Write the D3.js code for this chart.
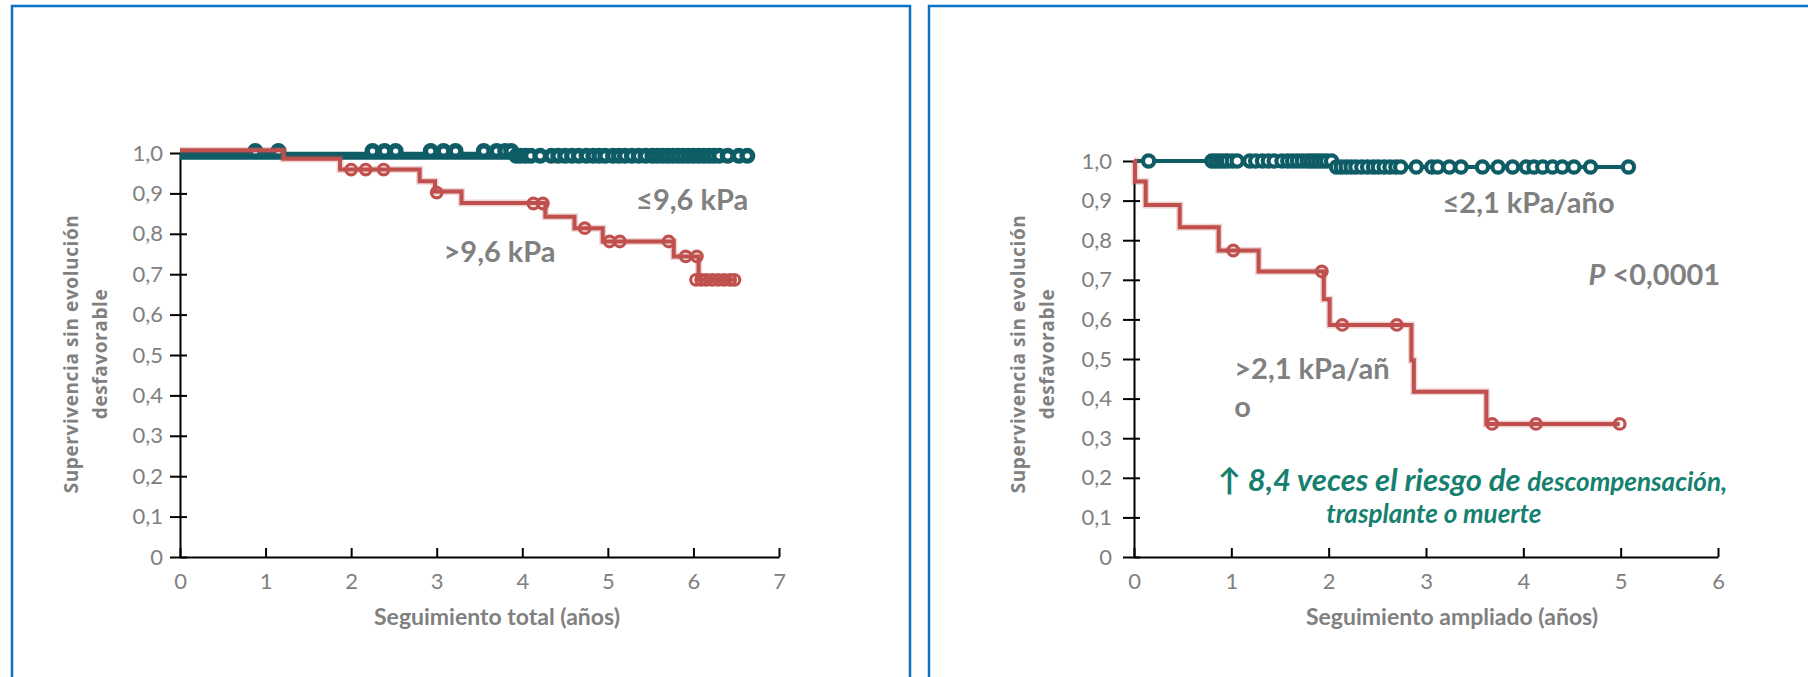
<!DOCTYPE html>
<html>
<head>
<meta charset="utf-8">
<script src="https://cdn.jsdelivr.net/npm/d3@7/dist/d3.min.js"></script>
<style>
  body { margin: 0; background: #fff; }
  svg { display: block; }
  .axis path, .axis line { stroke: #000; stroke-width: 2px; }
  .axis text { font-family: Lato, sans-serif; font-size: 22px; fill: #808080; }
  .ytitle { font-family: "Open Sans", sans-serif; font-size: 19px; font-weight: 700; fill: #808080; letter-spacing: 0.6px; }
  .xtitle { font-family: Lato, sans-serif; font-size: 23px; font-weight: 700; fill: #808080; }
  .group-label { font-family: Lato, sans-serif; font-size: 29px; font-weight: 700; fill: #808080; }
  .note { font-family: Lato, sans-serif; font-weight: 700; font-style: italic; fill: #16806f; }
</style>
</head>
<body>
<div id="graphic"></div>
<script>
// Shared tick values
var survivalTicks = [0, 0.1, 0.2, 0.3, 0.4, 0.5, 0.6, 0.7, 0.8, 0.9, 1.0];
var survivalLabels = ["0", "0,1", "0,2", "0,3", "0,4", "0,5", "0,6", "0,7", "0,8", "0,9", "1,0"];
var totalYears = [0, 1, 2, 3, 4, 5, 6, 7];
var extendedYears = [0, 1, 2, 3, 4, 5, 6];

// Panel 1: seguimiento total, >9,6 kPa vs ≤9,6 kPa  ([years, survival])
var totalHighSteps = [[0, 1.007], [1.21, 0.986], [1.87, 0.959], [2.80, 0.930], [2.98, 0.905],
  [3.29, 0.876], [4.27, 0.842], [4.61, 0.814], [4.94, 0.781], [5.77, 0.744], [6.06, 0.686], [6.48, 0.686]];
var totalHighCensored = [[2.00, 0.959], [2.17, 0.959], [2.38, 0.959], [3.00, 0.902], [4.13, 0.875],
  [4.24, 0.875], [4.73, 0.814], [5.02, 0.781], [5.14, 0.781], [5.71, 0.781], [5.91, 0.744], [6.04, 0.744],
  [6.03, 0.686], [6.09, 0.686], [6.15, 0.686], [6.22, 0.686], [6.29, 0.686], [6.36, 0.686], [6.43, 0.686], [6.48, 0.686]];
var totalLowSteps = [[0, 0.993], [6.63, 0.993]];
var totalLowCensored = [[0.88, 1.005], [1.15, 1.005], [2.25, 1.005], [2.39, 1.005], [2.52, 1.005],
  [2.93, 1.005], [3.08, 1.005], [3.22, 1.005], [3.55, 1.005], [3.70, 1.005], [3.80, 1.005], [3.87, 1.005],
  [3.93, 0.993], [3.98, 0.993], [4.04, 0.993], [4.10, 0.993], [4.21, 0.993], [4.34, 0.993], [4.42, 0.993],
  [4.50, 0.993], [4.58, 0.993], [4.66, 0.993], [4.75, 0.993], [4.83, 0.993], [4.90, 0.993], [4.97, 0.993],
  [5.06, 0.993], [5.13, 0.993], [5.20, 0.993], [5.28, 0.993], [5.36, 0.993], [5.44, 0.993], [5.52, 0.993],
  [5.58, 0.993], [5.64, 0.993], [5.70, 0.993], [5.76, 0.993], [5.82, 0.993], [5.88, 0.993], [5.94, 0.993],
  [6.00, 0.993], [6.06, 0.993], [6.12, 0.993], [6.18, 0.993], [6.24, 0.993], [6.30, 0.993], [6.40, 0.993],
  [6.53, 0.993], [6.63, 0.993]];

// Panel 2: seguimiento ampliado, >2,1 kPa/año vs ≤2,1 kPa/año
var extHighSteps = [[0, 1.0], [0.01, 0.948], [0.12, 0.889], [0.47, 0.833], [0.87, 0.774], [1.28, 0.721],
  [1.95, 0.651], [2.01, 0.586], [2.85, 0.497], [2.875, 0.417], [3.62, 0.336], [4.99, 0.336]];
var extHighCensored = [[1.02, 0.774], [1.93, 0.721], [2.14, 0.586], [2.70, 0.586], [3.68, 0.336],
  [4.13, 0.336], [4.99, 0.336]];
var extLowSteps = [[0, 1.0], [2.06, 0.985], [5.09, 0.985]];
var extLowCensored = [[0.15, 1.0], [0.80, 1.0], [0.84, 1.0], [0.88, 1.0], [0.92, 1.0], [0.96, 1.0],
  [1.01, 1.0], [1.06, 1.0], [1.19, 1.0], [1.25, 1.0], [1.32, 1.0], [1.38, 1.0], [1.44, 1.0], [1.52, 1.0],
  [1.58, 1.0], [1.63, 1.0], [1.68, 1.0], [1.73, 1.0], [1.78, 1.0], [1.82, 1.0], [1.86, 1.0], [1.90, 1.0],
  [1.94, 1.0], [1.98, 1.0], [2.03, 1.0],
  [2.08, 0.985], [2.13, 0.985], [2.18, 0.985], [2.23, 0.985], [2.28, 0.985], [2.34, 0.985], [2.40, 0.985],
  [2.46, 0.985], [2.51, 0.985], [2.57, 0.985], [2.63, 0.985], [2.69, 0.985], [2.74, 0.985], [2.90, 0.985],
  [3.06, 0.985], [3.12, 0.985], [3.24, 0.985], [3.36, 0.985], [3.58, 0.985], [3.74, 0.985], [3.89, 0.985],
  [4.03, 0.985], [4.11, 0.985], [4.20, 0.985], [4.30, 0.985], [4.40, 0.985], [4.52, 0.985], [4.69, 0.985],
  [5.08, 0.985]];

var red = "#c0504d";
var teal = "#0e5c66";

var svg = d3.select("#graphic").append("svg")
    .attr("width", 1808)
    .attr("height", 677);

svg.append("rect").attr("width", 1808).attr("height", 677).attr("fill", "#fff");

function panel(opts) {
  // Blue frame
  svg.append("rect")
    .attr("x", opts.frame[0]).attr("y", opts.frame[1])
    .attr("width", opts.frame[2]).attr("height", opts.frame[3])
    .attr("fill", "none").attr("stroke", "#0b72c6").attr("stroke-width", 2.5);

  var x = d3.scaleLinear().domain([0, d3.max(opts.years)]).range(opts.xRange);
  var y = d3.scaleLinear().domain([0, 1]).range(opts.yRange);

  var g = svg.append("g");

  // Axes
  var yAxis = d3.axisLeft(y)
    .tickValues(survivalTicks)
    .tickFormat(function(d, i) { return survivalLabels[i]; })
    .tickSize(opts.tickOut)
    .tickSizeOuter(0)
    .tickPadding(opts.labelGap - opts.tickOut);

  var yg = g.append("g").attr("class", "axis")
    .attr("transform", "translate(" + x(0) + ",0)")
    .call(yAxis);
  yg.selectAll(".tick line").attr("x1", opts.tickIn);

  var xAxis = d3.axisBottom(x)
    .tickValues(opts.years)
    .tickFormat(d3.format("d"))
    .tickSize(-9)
    .tickSizeOuter(0)
    .tickPadding(16);

  g.append("g").attr("class", "axis")
    .attr("transform", "translate(0," + y(0) + ")")
    .call(xAxis);

  // Titles
  var yt = g.append("text").attr("class", "ytitle")
    .attr("text-anchor", "middle")
    .attr("transform", "translate(" + opts.ytitleX + ",354) rotate(-90)");
  yt.append("tspan").attr("x", 0).attr("dy", 0).text("Supervivencia sin evolución");
  yt.append("tspan").attr("x", 0).attr("dy", 29).text("desfavorable");

  g.append("text").attr("class", "xtitle")
    .attr("text-anchor", "middle")
    .attr("x", opts.xtitleX).attr("y", 625)
    .text(opts.xtitle);

  var line = d3.line()
    .x(function(d) { return x(d[0]); })
    .y(function(d) { return y(d[1]); })
    .curve(d3.curveStepAfter);

  // Low-risk group (teal)
  g.append("path").datum(opts.lowSteps)
    .attr("d", line).attr("fill", "none")
    .attr("stroke", teal).attr("stroke-width", opts.lowWidth);

  g.selectAll("circle.low").data(opts.lowCensored).enter().append("circle")
    .attr("class", "low")
    .attr("cx", function(d) { return x(d[0]); })
    .attr("cy", function(d) { return y(d[1]); })
    .attr("r", opts.lowR)
    .attr("fill", "#fff").attr("stroke", teal).attr("stroke-width", opts.lowMarkW);

  // High-risk group (red), with a faint halo like the original
  g.append("path").datum(opts.highSteps)
    .attr("d", line).attr("fill", "none")
    .attr("stroke", red).attr("stroke-opacity", 0.25).attr("stroke-width", 7);
  g.append("path").datum(opts.highSteps)
    .attr("d", line).attr("fill", "none")
    .attr("stroke", red).attr("stroke-width", 4);

  g.selectAll("circle.high").data(opts.highCensored).enter().append("circle")
    .attr("class", "high")
    .attr("cx", function(d) { return x(d[0]); })
    .attr("cy", function(d) { return y(d[1]); })
    .attr("r", 5.3)
    .attr("fill", "none").attr("stroke", red).attr("stroke-width", 3.2);

  // Group labels
  opts.labels.forEach(function(l) {
    g.append("text").attr("class", "group-label")
      .attr("x", x(l[0])).attr("y", y(l[1]))
      .html(l[2]);
  });

  return { g: g, x: x, y: y };
}

panel({
  frame: [12, 6, 898, 700],
  years: totalYears,
  xRange: [180, 779],
  yRange: [557, 153],
  tickOut: 10, tickIn: 7, labelGap: 17,
  ytitleX: 78,
  xtitleX: 497,
  xtitle: "Seguimiento total (años)",
  lowSteps: totalLowSteps, lowCensored: totalLowCensored,
  lowWidth: 8, lowR: 5.3, lowMarkW: 5.4,
  highSteps: totalHighSteps, highCensored: totalHighCensored,
  labels: [[5.33, 0.86, "≤9,6 kPa"], [3.08, 0.731, "&gt;9,6 kPa"]]
});

var p2 = panel({
  frame: [929, 6, 900, 700],
  years: extendedYears,
  xRange: [1134, 1718],
  yRange: [557, 161],
  tickOut: 11, tickIn: 6, labelGap: 22,
  ytitleX: 1025,
  xtitleX: 1452,
  xtitle: "Seguimiento ampliado (años)",
  lowSteps: extLowSteps, lowCensored: extLowCensored,
  lowWidth: 4, lowR: 5.6, lowMarkW: 4.2,
  highSteps: extHighSteps, highCensored: extHighCensored,
  labels: [[3.17, 0.868, "≤2,1 kPa/año"],
           [4.67, 0.687, "<tspan font-style='italic'>P</tspan> &lt;0,0001"],
           [1.03, 0.449, "&gt;2,1 kPa/añ"],
           [1.03, 0.354, "o"]]
});

// Risk note
var note = p2.g.append("text").attr("class", "note")
  .attr("x", p2.x(0.86)).attr("y", p2.y(0.167));
note.append("tspan").attr("font-size", 31).text("↑ 8,4 veces el riesgo de ");
note.append("tspan").attr("font-size", 26).text("descompensación,");
p2.g.append("text").attr("class", "note")
  .attr("text-anchor", "middle")
  .attr("font-size", 26)
  .attr("x", p2.x(3.08)).attr("y", p2.y(0.086))
  .text("trasplante o muerte");
</script>
</body>
</html>
